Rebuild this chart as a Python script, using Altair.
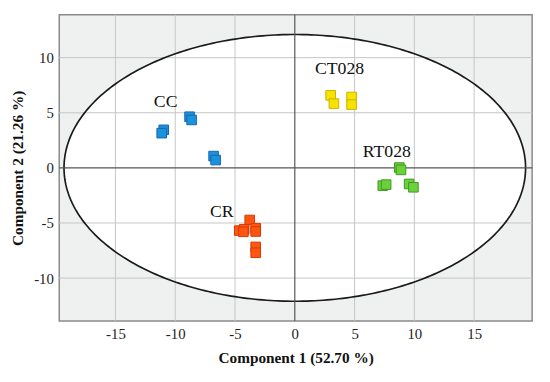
import altair as alt
import numpy as np
import pandas as pd

groups = ["CC"] * 6 + ["CT028"] * 4 + ["RT028"] * 6 + ["CR"] * 8
comp1 = [-8.8, -8.63, -10.96, -11.13, -6.79, -6.62,
         3.0, 3.27, 4.75, 4.75,
         8.74, 8.88, 7.36, 7.64, 9.56, 9.92,
         -3.77, -4.64, -4.23, -4.3, -3.27, -3.27, -3.27, -3.27]
comp2 = [4.64, 4.35, 3.45, 3.15, 1.07, 0.71,
         6.58, 5.83, 6.43, 5.74,
         0.03, -0.18, -1.61, -1.52, -1.46, -1.76,
         -4.73, -5.69, -5.57, -5.8, -5.48, -5.77, -7.17, -7.7]

label_text = ["CC", "CT028", "RT028", "CR"]
label_x = [-10.8, 3.74, 7.7, -6.1]
label_y = [6.0, 8.96, 1.46, -4.0]

group_names = ["CC", "CT028", "RT028", "CR"]
fill_colors = ["#1b93dc", "#f7e200", "#6ccf3c", "#ff5512"]
stroke_colors = ["#1565b0", "#c9b300", "#3c9a22", "#d63a00"]

x_ticks = [-15, -10, -5, 0, 5, 10, 15]
y_ticks = [-10, -5, 0, 5, 10]
x_grid = [-15, -10, -5, 5, 10, 15]
y_grid = [-10, -5, 5, 10]

ell_a = 19.3
ell_b = 12.1
x_dom = [-19.7, 19.85]
y_dom = [-13.9, 13.9]

pts = pd.DataFrame({"g": groups, "c1": comp1, "c2": comp2})
labs = pd.DataFrame({"t": label_text, "x": label_x, "y": label_y})

th = np.linspace(0, np.pi, 181)
ex = ell_a * np.cos(th)
ey = ell_b * np.sin(th)
ell_area = pd.DataFrame({"x": ex, "y": ey, "y2": -ey})
th2 = np.linspace(0, 2 * np.pi, 361)
ell_line = pd.DataFrame({"x": ell_a * np.cos(th2), "y": ell_b * np.sin(th2), "o": np.arange(361)})

xs = alt.Scale(domain=x_dom, nice=False, zero=False)
ys = alt.Scale(domain=y_dom, nice=False, zero=False)

font = "Liberation Serif"
xaxis = alt.Axis(values=x_ticks, grid=False, ticks=False, domain=False,
                 labelExpr="'' + datum.value",
                 labelFont=font, labelFontSize=15, labelColor="#222222", labelPadding=6,
                 title="Component 1 (52.70 %)", titleFont=font, titleFontSize=15.5,
                 titleFontWeight="bold", titleColor="#111111", titlePadding=9)
yaxis = alt.Axis(values=y_ticks, grid=False, ticks=False, domain=False,
                 labelExpr="'' + datum.value",
                 labelFont=font, labelFontSize=15, labelColor="#222222", labelPadding=6,
                 title="Component 2 (21.26 %)", titleFont=font, titleFontSize=15.5,
                 titleFontWeight="bold", titleColor="#111111", titlePadding=8)

fill = alt.Chart(ell_area).mark_area(color="white", opacity=1).encode(
    x=alt.X("x:Q", scale=xs, axis=xaxis),
    y=alt.Y("y:Q", scale=ys, axis=yaxis),
    y2="y2:Q",
)

vgrid = alt.Chart(pd.DataFrame({"v": x_grid})).mark_rule(color="#c4c6c6", strokeWidth=1).encode(
    x=alt.X("v:Q", scale=xs))
hgrid = alt.Chart(pd.DataFrame({"v": y_grid})).mark_rule(color="#c4c6c6", strokeWidth=1).encode(
    y=alt.Y("v:Q", scale=ys))

ell = alt.Chart(ell_line).mark_line(color="#1a1a1a", strokeWidth=1.7).encode(
    x=alt.X("x:Q", scale=xs), y=alt.Y("y:Q", scale=ys), order="o:Q")

zx = alt.Chart(pd.DataFrame({"v": [0]})).mark_rule(color="#555555", strokeWidth=1.2).encode(
    x=alt.X("v:Q", scale=xs))
zy = alt.Chart(pd.DataFrame({"v": [0]})).mark_rule(color="#555555", strokeWidth=1.2).encode(
    y=alt.Y("v:Q", scale=ys))

points = alt.Chart(pts).mark_square(size=95, opacity=1, strokeWidth=1).encode(
    x=alt.X("c1:Q", scale=xs),
    y=alt.Y("c2:Q", scale=ys),
    fill=alt.Fill("g:N", scale=alt.Scale(domain=group_names, range=fill_colors), legend=None),
    stroke=alt.Stroke("g:N", scale=alt.Scale(domain=group_names, range=stroke_colors), legend=None),
)

texts = alt.Chart(labs).mark_text(font=font, fontSize=18, color="#111111").encode(
    x=alt.X("x:Q", scale=xs), y=alt.Y("y:Q", scale=ys), text="t:N")

chart = alt.layer(fill, vgrid, hgrid, ell, zx, zy, points, texts).properties(
    width=480, height=311,
    autosize=alt.AutoSizeParams(type="none"),
    padding={"left": 52, "top": 4, "right": 10, "bottom": 55},
    background="white",
).configure_view(fill="#eff1f1", stroke="#8a8a8a", strokeWidth=1.5)

chart.save("out.html", embed_options={"renderer": "svg", "actions": False})
